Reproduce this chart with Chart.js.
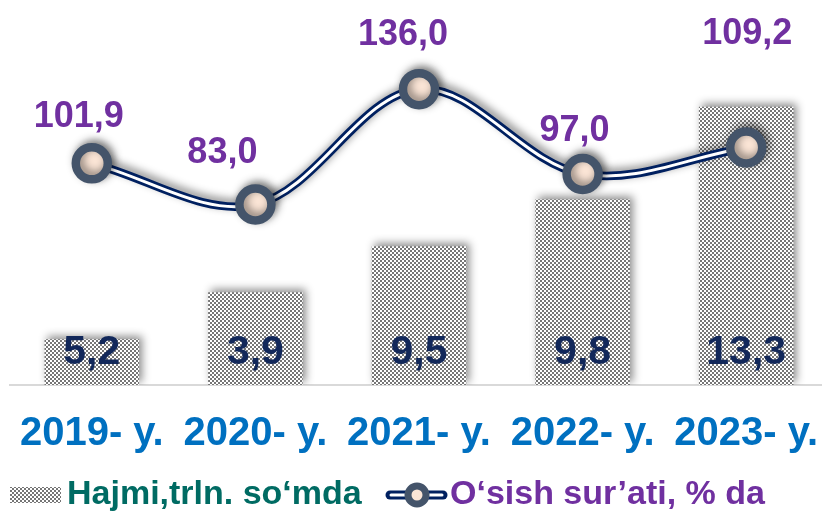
<!DOCTYPE html>
<html>
<head>
<meta charset="utf-8">
<script src="https://cdn.jsdelivr.net/npm/chart.js@4.4.1/dist/chart.umd.min.js"></script>
<style>
  html, body { margin: 0; padding: 0; background: #fff; overflow: hidden; }
  #wrap { width: 830px; height: 513px; }
</style>
</head>
<body>
<div id="wrap"><canvas id="chart" width="830" height="513"></canvas></div>
<script>
const years = ['2019- y.', '2020- y.', '2021- y.', '2022- y.', '2023- y.'];
// bar heights as they are drawn in the picture (the printed numbers do not follow them)
const volumeBars = [2.19, 4.43, 6.63, 8.87, 13.3];
const volumeLabels = ['5,2', '3,9', '9,5', '9,8', '13,3'];
const growthRate = [101.9, 83.0, 136.0, 97.0, 109.2];
const growthLabels = ['101,9', '83,0', '136,0', '97,0', '109,2'];
const legendNames = ['Hajmi,trln. so‘mda', 'O‘sish sur’ati, % da'];

// label offset from each growth point (dx, dy)
const growthLabelShift = [[-13, -46], [-33, -51], [-16, -54], [-8, -43], [1, -113]];

const FONT = '"Liberation Sans", Arial, sans-serif';
const NAVY = '#002060';
const PURPLE = '#7030A0';
const SLATE = '#44546A';
const PEACH = '#FBE5D6';

const canvas = document.getElementById('chart');
const ctx = canvas.getContext('2d');

function checker() {
  const c = document.createElement('canvas');
  c.width = 4; c.height = 4;
  const g = c.getContext('2d');
  g.fillStyle = '#ffffff';
  g.fillRect(0, 0, 4, 4);
  g.fillStyle = '#767676';
  g.fillRect(0, 0, 2, 2);
  g.fillRect(2, 2, 2, 2);
  return ctx.createPattern(c, 'repeat');
}
const pattern = checker();

const shadowPlugin = {
  id: 'shadow',
  beforeDatasetDraw(chart, args) {
    if (!chart.data.datasets[args.index].shadow) return;
    const c = chart.ctx;
    c.save();
    c.shadowColor = 'rgba(0,0,0,0.45)';
    c.shadowBlur = 8;
    c.shadowOffsetX = 3;
    c.shadowOffsetY = -3;
  },
  afterDatasetDraw(chart, args) {
    if (chart.data.datasets[args.index].shadow) chart.ctx.restore();
  }
};

const labelPlugin = {
  id: 'valueLabels',
  afterDatasetsDraw(chart) {
    const c = chart.ctx;
    const bars = chart.getDatasetMeta(0).data;
    const pts = chart.getDatasetMeta(3).data;
    c.save();
    c.textAlign = 'center';
    c.textBaseline = 'middle';
    c.font = 'bold 41px ' + FONT;
    c.fillStyle = '#12285A';
    bars.forEach((b, i) => c.fillText(volumeLabels[i], b.x, chart.chartArea.bottom - 32));
    c.font = 'bold 36px ' + FONT;
    c.fillStyle = PURPLE;
    pts.forEach((p, i) => {
      const [dx, dy] = growthLabelShift[i];
      c.fillText(growthLabels[i], p.x + dx, p.y + dy);
    });
    c.restore();
  }
};

const legendPlugin = {
  id: 'bottomLegend',
  afterDraw(chart) {
    const c = chart.ctx;
    const y = 495;
    c.save();
    c.font = 'bold 34px ' + FONT;
    c.textBaseline = 'middle';
    c.textAlign = 'left';

    c.fillStyle = pattern;
    c.fillRect(10, 487, 51, 16);
    c.fillStyle = '#006B63';
    c.fillText(legendNames[0], 67, y);

    c.lineCap = 'round';
    c.strokeStyle = NAVY;
    c.lineWidth = 9;
    c.beginPath(); c.moveTo(390, y); c.lineTo(443, y); c.stroke();
    c.strokeStyle = '#ffffff';
    c.lineWidth = 3;
    c.beginPath(); c.moveTo(391, y); c.lineTo(442, y); c.stroke();
    c.beginPath();
    c.arc(417, y, 9, 0, Math.PI * 2);
    c.fillStyle = PEACH;
    c.fill();
    c.lineWidth = 7;
    c.strokeStyle = SLATE;
    c.stroke();

    c.fillStyle = PURPLE;
    c.fillText(legendNames[1], 450, y);
    c.restore();
  }
};

new Chart(ctx, {
  data: {
    labels: years,
    datasets: [
      {
        type: 'bar',
        data: volumeBars,
        backgroundColor: pattern,
        borderWidth: 0,
        yAxisID: 'y',
        barPercentage: 0.578,
        categoryPercentage: 1,
        order: 3,
        shadow: true
      },
      {
        type: 'line',
        data: growthRate,
        yAxisID: 'y1',
        borderColor: NAVY,
        borderWidth: 8.5,
        tension: 0.35,
        pointRadius: 0,
        fill: false,
        order: 2,
        shadow: true
      },
      {
        type: 'line',
        data: growthRate,
        yAxisID: 'y1',
        borderColor: '#ffffff',
        borderWidth: 3,
        tension: 0.35,
        pointRadius: 0,
        fill: false,
        order: 1
      },
      {
        type: 'line',
        data: growthRate,
        yAxisID: 'y1',
        showLine: false,
        pointRadius: 16,
        pointBorderWidth: 8.5,
        pointBackgroundColor: PEACH,
        pointBorderColor: SLATE,
        clip: false,
        order: 0,
        shadow: true
      }
    ]
  },
  options: {
    responsive: false,
    animation: false,
    events: [],
    layout: { autoPadding: false, padding: { left: 10, right: 2, top: 0, bottom: 30 } },
    plugins: {
      legend: { display: false },
      tooltip: { enabled: false }
    },
    scales: {
      x: {
        offset: true,
        grid: { display: false, drawTicks: false },
        border: { display: true, color: '#D9D9D9', width: 2 },
        ticks: {
          color: '#0070C0',
          font: { family: FONT, size: 40, weight: 'bold' },
          padding: 25,
          maxRotation: 0,
          autoSkip: false
        },
        afterFit(scale) {
          scale.paddingLeft = 0;
          scale.paddingRight = 0;
        }
      },
      y: { display: false, min: 0, max: 18.4 },
      y1: { display: false, min: 0, max: 177, position: 'right' }
    }
  },
  plugins: [shadowPlugin, labelPlugin, legendPlugin]
});
</script>
</body>
</html>
